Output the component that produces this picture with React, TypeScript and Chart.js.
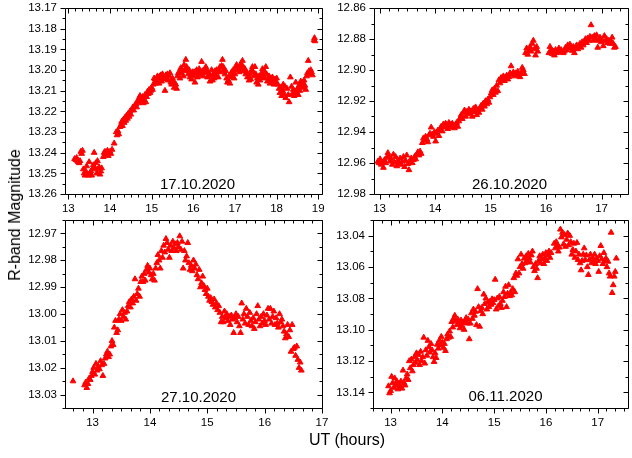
import React, { useEffect, useRef } from "react";
import { Chart, registerables } from "chart.js";

Chart.register(...registerables);

const W = 632;
const H = 458;
const FONT = '"Liberation Sans", Arial, sans-serif';

// ---------------- data ----------------
// 17.10.2020
const ut1 = [
  13.15, 13.18, 13.20, 13.22, 13.24, 13.26, 13.28, 13.30, 13.32, 13.34,
  13.36, 13.38, 13.40, 13.42, 13.44, 13.46, 13.48, 13.50, 13.52, 13.54,
  13.56, 13.58, 13.60, 13.62, 13.64, 13.66, 13.68, 13.70, 13.72, 13.74,
  13.76, 13.78, 13.80, 13.84, 13.86, 13.88, 13.90, 13.92, 13.94, 13.96,
  13.98, 14.00, 14.02, 14.05, 14.10, 14.15, 14.17, 14.19, 14.21, 14.24,
  14.26, 14.28, 14.30, 14.32, 14.34, 14.36, 14.38, 14.40, 14.42, 14.44,
  14.46, 14.48, 14.50, 14.53, 14.55, 14.57, 14.60, 14.62, 14.64, 14.66,
  14.68, 14.70, 14.72, 14.74, 14.76, 14.78, 14.80, 14.82, 14.84, 14.86,
  14.88, 14.90, 14.92, 14.94, 14.96, 14.98, 15.00, 15.02, 15.04, 15.06,
  15.08, 15.10, 15.12, 15.14, 15.16, 15.18, 15.20, 15.22, 15.24, 15.26,
  15.28, 15.30, 15.32, 15.34, 15.36, 15.38, 15.40, 15.42, 15.44, 15.46,
  15.48, 15.50, 15.52, 15.54, 15.56, 15.58, 15.60, 15.62, 15.64, 15.66,
  15.68, 15.70, 15.72, 15.74, 15.76, 15.78, 15.80, 15.82, 15.84, 15.86,
  15.88, 15.90, 15.92, 15.94, 15.96, 15.98, 16.00, 16.02, 16.04, 16.06,
  16.08, 16.10, 16.12, 16.14, 16.16, 16.18, 16.20, 16.22, 16.24, 16.26,
  16.28, 16.30, 16.32, 16.34, 16.36, 16.38, 16.40, 16.42, 16.44, 16.46,
  16.48, 16.50, 16.52, 16.54, 16.56, 16.58, 16.60, 16.62, 16.64, 16.66,
  16.68, 16.70, 16.72, 16.74, 16.76, 16.78, 16.80, 16.82, 16.84, 16.86,
  16.88, 16.90, 16.92, 16.94, 16.96, 16.98, 17.00, 17.02, 17.04, 17.06,
  17.08, 17.10, 17.12, 17.14, 17.16, 17.18, 17.20, 17.22, 17.24, 17.26,
  17.28, 17.30, 17.32, 17.34, 17.36, 17.38, 17.40, 17.42, 17.44, 17.46,
  17.48, 17.50, 17.52, 17.54, 17.56, 17.58, 17.60, 17.62, 17.64, 17.66,
  17.68, 17.70, 17.72, 17.74, 17.76, 17.78, 17.80, 17.82, 17.84, 17.86,
  17.88, 17.90, 17.92, 17.94, 17.96, 17.98, 18.00, 18.03, 18.06, 18.08,
  18.10, 18.12, 18.14, 18.16, 18.18, 18.20, 18.22, 18.25, 18.28, 18.30,
  18.33, 18.36, 18.38, 18.40, 18.42, 18.44, 18.46, 18.48, 18.50, 18.52,
  18.54, 18.56, 18.58, 18.60, 18.62, 18.64, 18.66, 18.68, 18.70, 18.72,
  18.74, 18.76, 18.78, 18.80, 18.82, 18.84, 18.86, 18.90, 18.91, 18.92,
];
const mag1 = [
  13.2430, 13.2435, 13.2425, 13.2440, 13.2445, 13.2450, 13.2440, 13.2395, 13.2405, 13.2390,
  13.2480, 13.2500, 13.2510, 13.2490, 13.2465, 13.2505, 13.2510, 13.2445, 13.2500, 13.2490,
  13.2510, 13.2480, 13.2460, 13.2400, 13.2475, 13.2450, 13.2500, 13.2440, 13.2480, 13.2470,
  13.2505, 13.2490, 13.2475, 13.2420, 13.2400, 13.2395, 13.2410, 13.2400, 13.2390, 13.2415,
  13.2400, 13.2395, 13.2405, 13.2385, 13.2355, 13.2300, 13.2315, 13.2295, 13.2310, 13.2275,
  13.2265, 13.2250, 13.2270, 13.2240, 13.2255, 13.2230, 13.2245, 13.2220, 13.2235, 13.2210,
  13.2225, 13.2200, 13.2215, 13.2190, 13.2180, 13.2195, 13.2170, 13.2165, 13.2180, 13.2150,
  13.2160, 13.2135, 13.2125, 13.2150, 13.2140, 13.2130, 13.2160, 13.2145, 13.2120, 13.2155,
  13.2130, 13.2105, 13.2115, 13.2095, 13.2110, 13.2100, 13.2085, 13.2095, 13.2070, 13.2040,
  13.2045, 13.2065, 13.2050, 13.2030, 13.2040, 13.2065, 13.2030, 13.2025, 13.2055, 13.2020,
  13.2035, 13.2045, 13.2100, 13.2025, 13.2040, 13.2020, 13.2050, 13.2030, 13.2015, 13.2060,
  13.2070, 13.2040, 13.2055, 13.2085, 13.2065, 13.2070, 13.2090, 13.2030, 13.2015, 13.2010,
  13.2040, 13.1990, 13.2015, 13.2000, 13.2030, 13.1975, 13.2005, 13.1950, 13.1985, 13.2000,
  13.2020, 13.2000, 13.2035, 13.2025, 13.2045, 13.2010, 13.2030, 13.2010, 13.2060, 13.2020,
  13.2000, 13.2035, 13.2015, 13.1995, 13.2025, 13.2010, 13.1960, 13.2005, 13.2030, 13.2015,
  13.2000, 13.1985, 13.2005, 13.2035, 13.2010, 13.2025, 13.2055, 13.2030, 13.2000, 13.2050,
  13.2020, 13.2040, 13.2005, 13.2025, 13.2000, 13.2010, 13.2035, 13.2000, 13.1985, 13.2010,
  13.1980, 13.1950, 13.1985, 13.2000, 13.2020, 13.2005, 13.2040, 13.2060, 13.2050, 13.2030,
  13.2065, 13.2035, 13.2010, 13.2030, 13.2000, 13.2040, 13.2020, 13.1985, 13.1975, 13.2000,
  13.1990, 13.2010, 13.1980, 13.1970, 13.2000, 13.1955, 13.1985, 13.2005, 13.1995, 13.2020,
  13.2010, 13.2035, 13.2030, 13.2050, 13.2020, 13.2045, 13.2000, 13.1985, 13.2010, 13.2030,
  13.1985, 13.2020, 13.2060, 13.2040, 13.2070, 13.2030, 13.2050, 13.2035, 13.2015, 13.1995,
  13.2025, 13.2040, 13.2010, 13.1985, 13.2020, 13.2055, 13.2040, 13.2030, 13.2065, 13.2045,
  13.2050, 13.2035, 13.2055, 13.2070, 13.2045, 13.2060, 13.2040, 13.2070, 13.2090, 13.2110,
  13.2085, 13.2125, 13.2100, 13.2070, 13.2115, 13.2080, 13.2135, 13.2090, 13.2120, 13.2155,
  13.2035, 13.2080, 13.2115, 13.2095, 13.2125, 13.2105, 13.2060, 13.2110, 13.2090, 13.2120,
  13.2075, 13.2100, 13.2055, 13.2075, 13.2060, 13.2085, 13.2050, 13.2075, 13.2095, 13.2030,
  13.2015, 13.1955, 13.2005, 13.2020, 13.2000, 13.2010, 13.2025, 13.1855, 13.1845, 13.1860,
];

// 26.10.2020
const ut2 = [
  12.97, 12.99, 13.01, 13.03, 13.05, 13.07, 13.09, 13.11, 13.13, 13.15,
  13.17, 13.19, 13.21, 13.23, 13.25, 13.27, 13.29, 13.31, 13.33, 13.35,
  13.37, 13.39, 13.41, 13.43, 13.45, 13.47, 13.49, 13.51, 13.53, 13.55,
  13.57, 13.59, 13.61, 13.63, 13.65, 13.67, 13.69, 13.71, 13.73, 13.75,
  13.77, 13.79, 13.81, 13.83, 13.85, 13.87, 13.89, 13.91, 13.93, 13.95,
  13.97, 13.99, 14.01, 14.03, 14.05, 14.07, 14.09, 14.11, 14.13, 14.15,
  14.17, 14.19, 14.21, 14.23, 14.25, 14.27, 14.29, 14.31, 14.33, 14.35,
  14.37, 14.39, 14.41, 14.43, 14.45, 14.47, 14.49, 14.51, 14.53, 14.55,
  14.57, 14.59, 14.61, 14.63, 14.65, 14.67, 14.69, 14.71, 14.73, 14.75,
  14.77, 14.79, 14.81, 14.83, 14.85, 14.87, 14.89, 14.91, 14.93, 14.95,
  14.97, 14.99, 15.01, 15.03, 15.05, 15.07, 15.09, 15.11, 15.13, 15.15,
  15.17, 15.19, 15.21, 15.23, 15.25, 15.27, 15.29, 15.31, 15.33, 15.35,
  15.37, 15.39, 15.41, 15.43, 15.45, 15.47, 15.49, 15.51, 15.53, 15.55,
  15.57, 15.59, 15.61, 15.63, 15.65, 15.67, 15.69, 15.71, 15.73, 15.75,
  15.77, 15.79, 15.81, 15.83, 15.85, 16.05, 16.07, 16.09, 16.11, 16.13,
  16.15, 16.17, 16.19, 16.21, 16.23, 16.25, 16.27, 16.31, 16.33, 16.35,
  16.37, 16.39, 16.41, 16.43, 16.45, 16.47, 16.49, 16.51, 16.53, 16.55,
  16.57, 16.59, 16.61, 16.63, 16.65, 16.67, 16.69, 16.71, 16.73, 16.75,
  16.77, 16.79, 16.81, 16.83, 16.85, 16.87, 16.89, 16.91, 16.93, 16.95,
  16.97, 16.99, 17.01, 17.03, 17.05, 17.07, 17.09, 17.11, 17.13, 17.15,
  17.17, 17.19, 17.21, 17.23, 17.25,
];
const mag2 = [
  12.9590, 12.9600, 12.9575, 12.9610, 12.9595, 12.9630, 12.9580, 12.9600, 12.9565, 12.9535,
  12.9560, 12.9590, 12.9575, 12.9610, 12.9545, 12.9595, 12.9560, 12.9620, 12.9585, 12.9600,
  12.9570, 12.9610, 12.9590, 12.9560, 12.9625, 12.9585, 12.9550, 12.9605, 12.9645, 12.9590,
  12.9570, 12.9600, 12.9580, 12.9560, 12.9575, 12.9545, 12.9530, 12.9550, 12.9525, 12.9540,
  12.9470, 12.9440, 12.9455, 12.9430, 12.9445, 12.9465, 12.9420, 12.9410, 12.9370, 12.9415,
  12.9430, 12.9400, 12.9460, 12.9410, 12.9390, 12.9425, 12.9380, 12.9365, 12.9395, 12.9350,
  12.9370, 12.9345, 12.9360, 12.9380, 12.9340, 12.9355, 12.9370, 12.9345, 12.9360, 12.9375,
  12.9350, 12.9340, 12.9365, 12.9330, 12.9310, 12.9290, 12.9315, 12.9275, 12.9260, 12.9300,
  12.9270, 12.9285, 12.9255, 12.9280, 12.9265, 12.9300, 12.9250, 12.9270, 12.9240, 12.9290,
  12.9260, 12.9275, 12.9245, 12.9230, 12.9255, 12.9215, 12.9235, 12.9200, 12.9220, 12.9190,
  12.9210, 12.9175, 12.9150, 12.9130, 12.9160, 12.9120, 12.9145, 12.9100, 12.9135, 12.9065,
  12.9085, 12.9050, 12.9060, 12.9040, 12.9070, 12.9050, 12.9035, 12.9060, 12.9045, 12.9020,
  12.8975, 12.9030, 12.9015, 12.9040, 12.9020, 12.9030, 12.9010, 12.9035, 12.9045, 12.9020,
  12.8985, 12.9000, 12.9025, 12.8890, 12.8860, 12.8900, 12.8875, 12.8850, 12.8880, 12.8830,
  12.8810, 12.8865, 12.8905, 12.8850, 12.8880, 12.8890, 12.8850, 12.8870, 12.8895, 12.8880,
  12.8905, 12.8870, 12.8890, 12.8875, 12.8860, 12.8885, 12.8870, 12.8890, 12.8880, 12.8855,
  12.8870, 12.8840, 12.8860, 12.8835, 12.8855, 12.8875, 12.8850, 12.8890, 12.8860, 12.8840,
  12.8865, 12.8850, 12.8830, 12.8855, 12.8820, 12.8840, 12.8815, 12.8800, 12.8825, 12.8795,
  12.8810, 12.8785, 12.8710, 12.8790, 12.8810, 12.8780, 12.8800, 12.8775, 12.8855, 12.8810,
  12.8790, 12.8820, 12.8805, 12.8845, 12.8780, 12.8815, 12.8800, 12.8825, 12.8810, 12.8830,
  12.8815, 12.8790, 12.8830, 12.8855, 12.8850,
];

// 27.10.2020
const ut3 = [
  12.66, 12.86, 12.88, 12.90, 12.92, 12.94, 12.96, 12.98, 13.00, 13.02,
  13.04, 13.06, 13.08, 13.10, 13.12, 13.14, 13.16, 13.18, 13.20, 13.22,
  13.24, 13.26, 13.28, 13.30, 13.32, 13.34, 13.36, 13.38, 13.40, 13.42,
  13.44, 13.46, 13.48, 13.50, 13.52, 13.54, 13.56, 13.58, 13.60, 13.62,
  13.64, 13.66, 13.68, 13.70, 13.72, 13.74, 13.76, 13.78, 13.80, 13.82,
  13.84, 13.86, 13.88, 13.90, 13.92, 13.94, 13.96, 13.98, 14.00, 14.02,
  14.04, 14.06, 14.08, 14.10, 14.12, 14.14, 14.16, 14.18, 14.20, 14.22,
  14.24, 14.26, 14.28, 14.30, 14.32, 14.34, 14.36, 14.38, 14.40, 14.42,
  14.44, 14.46, 14.48, 14.50, 14.52, 14.54, 14.56, 14.58, 14.60, 14.62,
  14.64, 14.66, 14.68, 14.70, 14.72, 14.74, 14.76, 14.78, 14.80, 14.82,
  14.84, 14.86, 14.88, 14.90, 14.92, 14.94, 14.96, 14.98, 15.00, 15.02,
  15.04, 15.06, 15.08, 15.10, 15.12, 15.14, 15.16, 15.18, 15.20, 15.22,
  15.24, 15.26, 15.28, 15.30, 15.32, 15.34, 15.36, 15.38, 15.40, 15.42,
  15.44, 15.46, 15.48, 15.50, 15.52, 15.54, 15.56, 15.58, 15.60, 15.62,
  15.64, 15.66, 15.68, 15.70, 15.72, 15.74, 15.76, 15.78, 15.80, 15.82,
  15.84, 15.86, 15.88, 15.90, 15.92, 15.94, 15.96, 15.98, 16.00, 16.02,
  16.04, 16.06, 16.08, 16.10, 16.12, 16.14, 16.16, 16.18, 16.20, 16.22,
  16.24, 16.26, 16.28, 16.30, 16.32, 16.34, 16.36, 16.38, 16.40, 16.42,
  16.44, 16.46, 16.48, 16.50, 16.52, 16.54, 16.56, 16.58, 16.60, 16.62,
  16.64,
];
const mag3 = [
  13.0250, 13.0265, 13.0255, 13.0275, 13.0260, 13.0240, 13.0245, 13.0230, 13.0215, 13.0200,
  13.0225, 13.0185, 13.0210, 13.0195, 13.0205, 13.0175, 13.0190, 13.0230, 13.0185, 13.0165,
  13.0150, 13.0140, 13.0160, 13.0150, 13.0120, 13.0100, 13.0115, 13.0050, 13.0025, 13.0070,
  13.0060, 13.0020, 13.0000, 13.0025, 12.9985, 13.0010, 12.9995, 13.0020, 12.9990, 12.9970,
  12.9955, 12.9975, 12.9945, 12.9960, 12.9935, 12.9870, 12.9950, 12.9925, 12.9905, 12.9935,
  12.9880, 12.9860, 12.9880, 12.9850, 12.9875, 12.9835, 12.9820, 12.9845, 12.9830, 12.9855,
  12.9870, 12.9850, 12.9875, 12.9830, 12.9810, 12.9780, 12.9800, 12.9830, 12.9765, 12.9790,
  12.9745, 12.9770, 12.9720, 12.9735, 12.9760, 12.9790, 12.9745, 12.9765, 12.9730, 12.9755,
  12.9740, 12.9765, 12.9735, 12.9750, 12.9710, 12.9760, 12.9730, 12.9830, 12.9765, 12.9800,
  12.9785, 12.9735, 12.9810, 12.9835, 12.9820, 12.9840, 12.9800, 12.9830, 12.9815, 12.9855,
  12.9870, 12.9835, 12.9900, 12.9885, 12.9860, 12.9895, 12.9910, 12.9925, 12.9905, 12.9935,
  12.9950, 12.9940, 12.9955, 12.9965, 12.9945, 12.9975, 12.9960, 12.9985, 12.9970, 12.9995,
  13.0030, 13.0010, 13.0030, 12.9990, 13.0015, 13.0000, 13.0025, 13.0010, 13.0040, 13.0005,
  13.0020, 13.0070, 13.0015, 13.0000, 13.0030, 13.0010, 13.0045, 13.0070, 12.9960, 13.0020,
  13.0000, 13.0035, 12.9980, 13.0010, 13.0040, 12.9995, 13.0025, 13.0045, 13.0015, 13.0055,
  13.0030, 13.0000, 12.9970, 13.0020, 13.0045, 13.0010, 13.0035, 13.0000, 13.0025, 13.0040,
  13.0005, 12.9980, 13.0020, 12.9980, 13.0035, 13.0010, 12.9990, 13.0040, 13.0015, 13.0035,
  13.0050, 13.0000, 13.0030, 13.0020, 13.0045, 13.0065, 13.0090, 13.0075, 13.0040, 13.0085,
  13.0060, 13.0140, 13.0040, 13.0130, 13.0125, 13.0155, 13.0120, 13.0170, 13.0200, 13.0180,
  13.0210,
];

// 06.11.2020
const ut4 = [
  12.96, 12.98, 13.00, 13.02, 13.04, 13.06, 13.08, 13.10, 13.12, 13.14,
  13.16, 13.18, 13.20, 13.22, 13.24, 13.26, 13.28, 13.30, 13.32, 13.34,
  13.36, 13.38, 13.40, 13.42, 13.44, 13.46, 13.48, 13.50, 13.52, 13.54,
  13.56, 13.58, 13.60, 13.62, 13.64, 13.66, 13.68, 13.70, 13.72, 13.74,
  13.76, 13.78, 13.80, 13.82, 13.84, 13.86, 13.88, 13.90, 13.92, 13.94,
  13.96, 13.98, 14.00, 14.02, 14.04, 14.06, 14.08, 14.10, 14.12, 14.14,
  14.16, 14.18, 14.20, 14.22, 14.24, 14.26, 14.28, 14.30, 14.32, 14.34,
  14.36, 14.38, 14.40, 14.42, 14.44, 14.46, 14.48, 14.50, 14.52, 14.54,
  14.56, 14.58, 14.60, 14.62, 14.64, 14.66, 14.68, 14.70, 14.72, 14.74,
  14.76, 14.78, 14.80, 14.82, 14.84, 14.86, 14.88, 14.90, 14.92, 14.94,
  14.96, 14.98, 15.00, 15.02, 15.04, 15.06, 15.08, 15.10, 15.12, 15.14,
  15.16, 15.18, 15.20, 15.22, 15.24, 15.26, 15.28, 15.30, 15.32, 15.34,
  15.36, 15.38, 15.40, 15.42, 15.44, 15.46, 15.48, 15.50, 15.52, 15.54,
  15.56, 15.58, 15.60, 15.62, 15.64, 15.66, 15.68, 15.70, 15.72, 15.74,
  15.76, 15.78, 15.80, 15.82, 15.84, 15.86, 15.88, 15.90, 15.92, 15.94,
  15.96, 15.98, 16.00, 16.02, 16.04, 16.06, 16.08, 16.10, 16.16, 16.18,
  16.20, 16.22, 16.24, 16.26, 16.28, 16.30, 16.32, 16.34, 16.36, 16.38,
  16.40, 16.42, 16.44, 16.46, 16.48, 16.50, 16.52, 16.54, 16.56, 16.58,
  16.60, 16.62, 16.64, 16.66, 16.68, 16.70, 16.72, 16.74, 16.76, 16.78,
  16.80, 16.82, 16.84, 16.86, 16.88, 16.90, 16.92, 16.94, 16.96, 16.98,
  17.00, 17.02, 17.04, 17.06, 17.08, 17.10, 17.12, 17.14, 17.16, 17.18,
  17.20, 17.22, 17.24, 17.26, 17.28, 17.30, 17.32, 17.34, 17.36,
];
const mag4 = [
  13.1360, 13.1405, 13.1390, 13.1300, 13.1340, 13.1370, 13.1310, 13.1355, 13.1330, 13.1380,
  13.1345, 13.1365, 13.1330, 13.1375, 13.1260, 13.1340, 13.1355, 13.1310, 13.1285, 13.1320,
  13.1200, 13.1245, 13.1190, 13.1265, 13.1225, 13.1175, 13.1210, 13.1150, 13.1195, 13.1160,
  13.1225, 13.1140, 13.1200, 13.1175, 13.1050, 13.1215, 13.1130, 13.1165, 13.1070, 13.1110,
  13.1145, 13.1090, 13.1130, 13.1175, 13.1205, 13.1150, 13.1180, 13.1095, 13.1120, 13.1070,
  13.1100, 13.1045, 13.1080, 13.1115, 13.1090, 13.1135, 13.1060, 13.1030, 13.1050, 13.1010,
  13.1045, 13.0950, 13.0985, 13.0930, 13.0910, 13.0945, 13.0970, 13.0935, 13.0960, 13.0990,
  13.0940, 13.0975, 13.0955, 13.1000, 13.0945, 13.0925, 13.0960, 13.0935, 13.1060, 13.0960,
  13.0895, 13.0930, 13.0870, 13.0910, 13.0885, 13.0970, 13.0740, 13.0855, 13.0980, 13.0880,
  13.0860, 13.0900, 13.0775, 13.0835, 13.0800, 13.0870, 13.0825, 13.0855, 13.0820, 13.0840,
  13.0805, 13.0830, 13.0810, 13.0680, 13.0870, 13.0800, 13.0850, 13.0790, 13.0835, 13.0860,
  13.0815, 13.0760, 13.0790, 13.0725, 13.0855, 13.0770, 13.0715, 13.0785, 13.0760, 13.0780,
  13.0740, 13.0670, 13.0760, 13.0640, 13.0655, 13.0550, 13.0640, 13.0600, 13.0520, 13.0580,
  13.0610, 13.0545, 13.0575, 13.0530, 13.0560, 13.0515, 13.0545, 13.0570, 13.0525, 13.0500,
  13.0600, 13.0625, 13.0580, 13.0610, 13.0670, 13.0560, 13.0530, 13.0575, 13.0550, 13.0520,
  13.0580, 13.0545, 13.0510, 13.0560, 13.0525, 13.0500, 13.0540, 13.0510, 13.0450, 13.0480,
  13.0440, 13.0465, 13.0500, 13.0475, 13.0360, 13.0410, 13.0380, 13.0455, 13.0395, 13.0470,
  13.0425, 13.0385, 13.0460, 13.0400, 13.0440, 13.0520, 13.0490, 13.0450, 13.0540, 13.0500,
  13.0445, 13.0555, 13.0520, 13.0575, 13.0620, 13.0560, 13.0520, 13.0480, 13.0555, 13.0525,
  13.0600, 13.0650, 13.0555, 13.0520, 13.0575, 13.0540, 13.0565, 13.0520, 13.0580, 13.0545,
  13.0560, 13.0630, 13.0530, 13.0465, 13.0550, 13.0580, 13.0510, 13.0560, 13.0545, 13.0600,
  13.0565, 13.0640, 13.0660, 13.0380, 13.0765, 13.0715, 13.0660, 13.0630, 13.0545,
];

// tick labels
const xTicks1 = [13, 14, 15, 16, 17, 18, 19];
const yTicks1 = [13.17, 13.18, 13.19, 13.2, 13.21, 13.22, 13.23, 13.24, 13.25, 13.26];
const xTicks2 = [13, 14, 15, 16, 17];
const yTicks2 = [12.86, 12.88, 12.9, 12.92, 12.94, 12.96, 12.98];
const xTicks3 = [13, 14, 15, 16, 17];
const yTicks3 = [12.97, 12.98, 12.99, 13.0, 13.01, 13.02, 13.03];
const xTicks4 = [13, 14, 15, 16, 17];
const yTicks4 = [13.04, 13.06, 13.08, 13.1, 13.12, 13.14];

const dates = ["17.10.2020", "26.10.2020", "27.10.2020", "06.11.2020"];

// ---------------- layout (pixels) ----------------
type PanelCfg = {
  ut: number[];
  mag: number[];
  xTicks: number[];
  yTicks: number[];
  date: string;
  area: { l: number; t: number; r: number; b: number };
  xMin: number;
  xMax: number;
  yMin: number;
  yMax: number;
  yMinor: number;
  dateX: number;
  dateY: number;
};

const panels: PanelCfg[] = [
  {
    ut: ut1, mag: mag1, xTicks: xTicks1, yTicks: yTicks1, date: dates[0],
    area: { l: 65, t: 8, r: 322, b: 194 },
    xMin: 12.92, xMax: 19.09, yMin: 13.17, yMax: 13.26, yMinor: 0.005,
    dateX: 197.5, dateY: 188.5,
  },
  {
    ut: ut2, mag: mag2, xTicks: xTicks2, yTicks: yTicks2, date: dates[1],
    area: { l: 374, t: 8, r: 631, b: 194 },
    xMin: 12.9, xMax: 17.47, yMin: 12.86, yMax: 12.98, yMinor: 0.01,
    dateX: 509.5, dateY: 189,
  },
  {
    ut: ut3, mag: mag3, xTicks: xTicks3, yTicks: yTicks3, date: dates[2],
    area: { l: 65, t: 220, r: 322, b: 408 },
    xMin: 12.52, xMax: 17.0, yMin: 12.965, yMax: 13.035, yMinor: 0.005,
    dateX: 198.5, dateY: 401.5,
  },
  {
    ut: ut4, mag: mag4, xTicks: xTicks4, yTicks: yTicks4, date: dates[3],
    area: { l: 373, t: 220, r: 631, b: 408 },
    xMin: 12.66, xMax: 17.58, yMin: 13.03, yMax: 13.15, yMinor: 0.01,
    dateX: 505.5, dateY: 400.5,
  },
];

function makeFramePlugin(p: PanelCfg) {
  return {
    id: "frameTicks",
    afterDraw(chart: any) {
      const { ctx, chartArea: a, scales } = chart;
      const xs = scales.x;
      const ys = scales.y;
      const l = Math.round(a.left) + 0.5;
      const r = Math.round(a.right) + 0.5;
      const t = Math.round(a.top) + 0.5;
      const b = Math.round(a.bottom) + 0.5;
      const MAJ = 5;
      const MIN = 3;
      ctx.save();
      ctx.strokeStyle = "#000";
      ctx.lineWidth = 1;
      ctx.beginPath();
      ctx.rect(l, t, r - l, b - t);
      // x ticks: majors every hour, minors every 10 minutes
      const k0 = Math.ceil(p.xMin * 6 - 1e-6);
      const k1 = Math.floor(p.xMax * 6 + 1e-6);
      for (let k = k0; k <= k1; k++) {
        const v = k / 6;
        const len = k % 6 === 0 ? MAJ : MIN;
        const px = Math.round(xs.getPixelForValue(v)) + 0.5;
        ctx.moveTo(px, b);
        ctx.lineTo(px, b + len);
        ctx.moveTo(px, t);
        ctx.lineTo(px, t + len);
      }
      // y ticks
      const n0 = Math.ceil(p.yMin / p.yMinor - 1e-6);
      const n1 = Math.floor(p.yMax / p.yMinor + 1e-6);
      for (let k = n0; k <= n1; k++) {
        const v = k * p.yMinor;
        const isMaj = p.yTicks.some((tv) => Math.abs(tv - v) < 1e-7);
        const len = isMaj ? MAJ : MIN;
        const py = Math.round(ys.getPixelForValue(v)) + 0.5;
        ctx.moveTo(l - len, py);
        ctx.lineTo(l, py);
        ctx.moveTo(r, py);
        ctx.lineTo(r - len, py);
      }
      ctx.stroke();
      ctx.fillStyle = "#000";
      ctx.font = `15px ${FONT}`;
      ctx.textAlign = "center";
      ctx.textBaseline = "alphabetic";
      ctx.fillText(p.date, p.dateX, p.dateY);
      ctx.restore();
    },
  };
}

function Panel({ p }: { p: PanelCfg }) {
  const ref = useRef<HTMLCanvasElement | null>(null);
  useEffect(() => {
    if (!ref.current) return;
    const tickFont = { family: FONT, size: 11.5 };
    const chart = new Chart(ref.current, {
      type: "scatter",
      data: {
        datasets: [
          {
            data: p.ut.map((x, i) => ({ x, y: p.mag[i] })),
            pointStyle: "triangle",
            pointRadius: 3.3,
            pointHoverRadius: 3.3,
            backgroundColor: "#ff0000",
            borderColor: "#ff0000",
            borderWidth: 1,
          },
        ],
      },
      options: {
        responsive: false,
        animation: false,
        devicePixelRatio: 1,
        events: [],
        layout: {
          padding: { left: 0, top: p.area.t, right: W - p.area.r, bottom: 0 },
        },
        plugins: {
          legend: { display: false },
          tooltip: { enabled: false },
          title: { display: false },
        },
        scales: {
          x: {
            type: "linear",
            position: "bottom",
            min: p.xMin,
            max: p.xMax,
            afterBuildTicks: (s: any) => {
              s.ticks = p.xTicks.map((v) => ({ value: v }));
            },
            afterFit: (s: any) => {
              s.height = H - p.area.b;
              s.paddingLeft = 0;
              s.paddingRight = 0;
              s.paddingTop = 0;
              s.paddingBottom = 0;
            },
            grid: { display: false, drawTicks: false },
            border: { display: false },
            ticks: {
              color: "#000",
              font: tickFont,
              padding: 8,
              maxRotation: 0,
              autoSkip: false,
              callback: (v: any) => String(v),
            },
          },
          y: {
            type: "linear",
            position: "left",
            reverse: true,
            min: p.yMin,
            max: p.yMax,
            afterBuildTicks: (s: any) => {
              s.ticks = p.yTicks.map((v) => ({ value: v }));
            },
            afterFit: (s: any) => {
              s.width = p.area.l;
              s.paddingLeft = 0;
              s.paddingRight = 0;
              s.paddingTop = 0;
              s.paddingBottom = 0;
            },
            grid: { display: false, drawTicks: false },
            border: { display: false },
            ticks: {
              color: "#000",
              font: tickFont,
              padding: 8,
              autoSkip: false,
              callback: (v: any) => Number(v).toFixed(2),
            },
          },
        },
      } as any,
      plugins: [makeFramePlugin(p)],
    });
    return () => chart.destroy();
  }, [p]);
  return (
    <canvas
      ref={ref}
      width={W}
      height={H}
      style={{ position: "absolute", left: 0, top: 0, width: W, height: H }}
    />
  );
}

export default function App() {
  return (
    <div
      style={{
        position: "absolute",
        left: 0,
        top: 0,
        width: W,
        height: H,
        background: "#fff",
        overflow: "hidden",
      }}
    >
      {panels.map((p, i) => (
        <Panel key={i} p={p} />
      ))}
      <div
        style={{
          position: "absolute",
          left: 14.5,
          top: 215,
          transform: "translate(-50%, -50%) rotate(-90deg)",
          font: `16px ${FONT}`,
          lineHeight: "16px",
          whiteSpace: "nowrap",
          color: "#000",
        }}
      >
        R-band Magnitude
      </div>
      <div
        style={{
          position: "absolute",
          left: 247,
          top: 432,
          width: 200,
          textAlign: "center",
          font: `16px ${FONT}`,
          lineHeight: "16px",
          whiteSpace: "nowrap",
          color: "#000",
        }}
      >
        UT (hours)
      </div>
    </div>
  );
}
